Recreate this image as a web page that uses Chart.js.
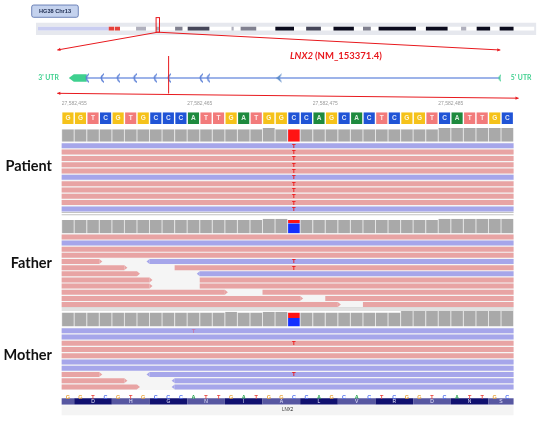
<!DOCTYPE html>
<html>
<head>
<meta charset="utf-8">
<title>LNX2 variant - IGV view</title>
<script src="https://cdn.jsdelivr.net/npm/chart.js@4.4.1/dist/chart.umd.min.js"></script>
<style>
  body { margin: 0; background: #fff; }
  canvas { display: block; }
</style>
</head>
<body>
<canvas id="igv" width="550" height="424"></canvas>
<script>
// ---------- data ----------
var chromName = 'HG38 Chr13';
var chrLength = 114.36; // Mb
// [start Mb, end Mb, stain]
var chrBands = [
  [0, 16.3, 'stalk'], [16.3, 17.55, 'acen'], [17.7, 18.9, 'acen'],
  [22.6, 24.9, 'gpos25'], [27.2, 28.1, 'gpos25'], [31.6, 33.3, 'gpos50'],
  [34.5, 39.5, 'gpos75'], [44.6, 45.1, 'gpos25'], [46.7, 50.3, 'gpos50'],
  [54.7, 59.0, 'gpos100'], [61.8, 65.2, 'gpos75'], [68.1, 72.8, 'gpos100'],
  [74.9, 76.7, 'gpos50'], [78.5, 87.1, 'gpos100'], [89.4, 94.4, 'gpos100'],
  [97.5, 98.7, 'gpos25'], [101.1, 104.2, 'gpos100'], [106.4, 109.6, 'gpos100']
];

var geneName = 'LNX2';
var transcript = 'NM_153371.4';
var geneSpan = [27559000, 27660500];   // minus strand: 3' end left, 5' end right
var geneView = [27556300, 27660500];
var utr3 = [27559000, 27563200];
var codingExons = [27563200, 27566700, 27570500, 27574400, 27579200, 27582470, 27590000, 27591700];
var largeExons = [27608500];
var utr5Exons = [27660300];

var viewStart = 27582454;   // left edge of the first base shown
var refSeq = ['G','G','T','C','G','T','G','C','C','C','A','T','T','G','A','T','G','G',
              'C','C','A','G','C','A','C','T','C','G','G','T','C','A','T','T','G','C'];
var rulerTicks = [27582455, 27582465, 27582475, 27582485];
var variantPos = 27582473;
var codonFrameStart = 27582455;
var aminoAcids = ['D','H','G','N','I','A','L','V','R','D','N','S'];

var sampleNames = ['Patient', 'Father', 'Mother'];

var patientDepth = [11,11,11,11,11,11,11,11,11,11,11,11,11,11,11,11,12,11,11,11,11,11,11,11,11,11,11,11,11,11,12,12,12,12,12,12];
var fatherDepth  = [12,12,12,12,12,12,12,12,12,12,12,12,12,12,12,12,13,13,12,12,12,12,12,12,12,12,12,12,12,12,13,13,13,13,13,13];
var motherDepth  = [18,18,18,18,18,18,18,18,18,18,18,18,18,19,18,18,19,19,18,18,18,18,18,18,18,18,18,20,20,20,20,20,20,20,20,20];

var patientAlleles = { T: 11, C: 0 };
var fatherAlleles  = { T: 3,  C: 9 };
var motherAlleles  = { T: 7,  C: 11 };

// each row: segments [startBase, endBase, strand] (bases counted from viewStart)
var patientReads = [
  [[0,36,'-']], [[0,36,'+']], [[0,36,'+']], [[0,36,'+']], [[0,36,'+']], [[0,36,'-']],
  [[0,36,'+']], [[0,36,'+']], [[0,36,'+']], [[0,36,'+']], [[0,36,'-']]
];
var fatherReads = [
  [[0,36,'+']], [[0,36,'-']], [[0,36,'+']], [[0,36,'+']],
  [[0,3,'+'],[7,36,'-']], [[0,5,'+'],[9,36,'+']], [[0,6,'+'],[11,36,'-']],
  [[0,7,'+'],[11,36,'+']], [[0,7,'+'],[11,36,'+']], [[0,13,'+'],[16,36,'+']],
  [[0,19,'+'],[21,36,'+']], [[0,22,'+'],[24,36,'+']]
];
var motherReads = [
  [[0,36,'-']], [[0,36,'-']], [[0,36,'+']], [[0,36,'+']], [[0,36,'+']], [[0,36,'-']], [[0,36,'-']],
  [[0,3,'+'],[7,36,'-']], [[0,5,'+'],[9,36,'-']], [[0,6,'+'],[9,36,'-']]
];

// [row, position, base, lowQuality]
var patientMismatches = [[0,variantPos,'T'],[1,variantPos,'T'],[2,variantPos,'T'],[3,variantPos,'T'],
  [4,variantPos,'T'],[5,variantPos,'T'],[6,variantPos,'T'],[7,variantPos,'T'],[8,variantPos,'T'],
  [9,variantPos,'T'],[10,variantPos,'T']];
var fatherMismatches = [[4,variantPos,'T'],[5,variantPos,'T']];
var motherMismatches = [[0,27582465,'T',true],[2,variantPos,'T'],[7,variantPos,'T']];

// ---------- layout & style ----------
var W = 550, H = 424;
var chrPx = [33.6, 539], genePx = [65, 504.5], alnPx = [57.7, 518];
var ideoY = 24.2, ideoH = 3.8, ideoBgY = 24.5, ideoBgH = 12.4;
var geneY = 74.8;
var rulerY = 104, seqY = 115.85, seqH = 11.7;
var readH = 5;
var trackLayout = {
  Patient: { covTop: 126, covBottom: 140, readTop: 141.7, rowStep: 6.46, seps: [212.6, 214.7], labelY: 166.5 },
  Father:  { covTop: 219, covBottom: 234, readTop: 235, rowStep: 6.3, seps: [310.3, 312.3], labelY: 263.5 },
  Mother:  { covTop: 313.3, covBottom: 329.3, readTop: 331, rowStep: 6.4, seps: [], labelY: 355 }
};
var baseLettersY = 397, aaY = 406, aaH = 6.3, footY = 415;

var stainColor = { stalk: '#c9cdf1', acen: '#e5403a', gpos25: '#b0b0bd', gpos50: '#80808f', gpos75: '#454558', gpos100: '#0b0b1d' };
var baseFill = { A: '#1e8a3e', C: '#2054d6', G: '#f5c21a', T: '#f27b7b' };
var baseText = { A: '#22a04c', C: '#4f6ff0', G: '#e9a33a', T: '#e8453c' };
var readPink = '#e8a4a4', readBlue = '#a6a6ea';
var alleleColor = { T: '#ff1414', C: '#1430ff' };
var red = '#e8191e', utrGreen = '#3fd08f', exonBlue = '#5a7fd6';

var dataBySample = {
  Patient: { depth: patientDepth, alleles: patientAlleles, reads: patientReads, mm: patientMismatches },
  Father:  { depth: fatherDepth,  alleles: fatherAlleles,  reads: fatherReads,  mm: fatherMismatches },
  Mother:  { depth: motherDepth,  alleles: motherAlleles,  reads: motherReads,  mm: motherMismatches }
};

var viewEnd = viewStart + refSeq.length;
var variantIdx = variantPos - 1 - viewStart;
var basePx = (alnPx[1] - alnPx[0]) / refSeq.length;

function fit(v0, v1, p0, p1) {
  var k = (v1 - v0) / (p1 - p0);
  return { min: v0 - p0 * k, max: v1 + (W - p1) * k };
}
function xScale(range) {
  return Object.assign({ type: 'linear', axis: 'x', display: false, offset: false, beginAtZero: false,
    stacked: false, bounds: 'data' }, range);
}
function hbar(o) {
  return Object.assign({ type: 'bar', indexAxis: 'y', grouped: false, yAxisID: 'y', borderSkipped: false,
    inflateAmount: 0, borderWidth: 0 }, o);
}
function vbar(o) {
  return Object.assign({ type: 'bar', indexAxis: 'x', grouped: false, xAxisID: 'xa', yAxisID: 'y',
    borderSkipped: false, inflateAmount: 0, borderWidth: 0 }, o);
}
function rowCenter(L, r) { return L.readTop + r * L.rowStep + readH / 2; }

function chevronImg(color, w, h, filled) {
  var c = document.createElement('canvas');
  c.width = w; c.height = h;
  var g = c.getContext('2d');
  g.fillStyle = color;
  g.beginPath();
  if (filled) {
    g.moveTo(w, 0); g.lineTo(0, h / 2); g.lineTo(w, h); g.lineTo(w * 0.55, h / 2);
  } else {
    g.moveTo(w, 0); g.quadraticCurveTo(-2, h / 2, w, h);
    g.lineTo(w, h - 1.6); g.quadraticCurveTo(1.2, h / 2, w, 1.6);
  }
  g.closePath(); g.fill();
  return c;
}

// ---------- datasets (listed bottom layer first) ----------
var ds = [];

// ideogram
ds.push(hbar({ xAxisID: 'xc', barThickness: ideoBgH, backgroundColor: '#e6e8ee',
  data: [{ x: [-0.45, chrLength + 0.45], y: ideoBgY }] }));
ds.push(hbar({ xAxisID: 'xc', barThickness: ideoH, backgroundColor: '#ffffff',
  data: [{ x: [0, chrLength], y: ideoY }] }));
ds.push(hbar({ xAxisID: 'xc', barThickness: ideoH,
  backgroundColor: function (c) { return c.raw ? stainColor[c.raw.stain] : '#888'; },
  data: chrBands.map(function (b) { return { x: [b[0], b[1]], y: ideoY, stain: b[2] }; }) }));

// gene model
ds.push(hbar({ xAxisID: 'xg', barThickness: 1.5, backgroundColor: '#7d9ae2',
  data: [{ x: [utr3[1], geneSpan[1]], y: geneY }] }));
ds.push({ type: 'scatter', xAxisID: 'xg', yAxisID: 'y', pointStyle: chevronImg(exonBlue, 5, 10, false),
  pointRadius: 4, data: codingExons.map(function (p) { return { x: p, y: geneY }; }) });
ds.push({ type: 'scatter', xAxisID: 'xg', yAxisID: 'y', pointStyle: chevronImg('#5b8bc9', 6, 10, true),
  pointRadius: 4, data: largeExons.map(function (p) { return { x: p, y: geneY }; }) });
ds.push({ type: 'scatter', xAxisID: 'xg', yAxisID: 'y', pointStyle: chevronImg(utrGreen, 4, 8, false),
  pointRadius: 4, data: utr5Exons.map(function (p) { return { x: p, y: geneY }; }) });

// reference sequence
ds.push(hbar({ xAxisID: 'xa', barThickness: seqH,
  backgroundColor: function (c) { return c.raw ? baseFill[c.raw.base] : '#ccc'; },
  borderColor: '#ffffff', borderWidth: { left: 0.7, right: 0.7, top: 0, bottom: 0 },
  data: refSeq.map(function (b, i) { return { x: [viewStart + i, viewStart + i + 1], y: seqY, base: b }; }) }));

// samples
sampleNames.forEach(function (name) {
  var L = trackLayout[name], d = dataBySample[name];
  var maxDepth = Math.max.apply(null, d.depth);
  var covH = L.covBottom - L.covTop;
  var hOf = function (n) { return n / maxDepth * covH; };

  ds.push(vbar({ barThickness: basePx, backgroundColor: '#a9a9a9', borderColor: '#d2d2d2',
    borderWidth: { left: 0.6, right: 0.6, top: 0, bottom: 0 },
    data: d.depth.map(function (n, i) {
      return i === variantIdx ? null : { x: viewStart + i + 0.5, y: [L.covBottom - hOf(n), L.covBottom] };
    }).filter(Boolean) }));

  var nC = d.alleles.C, nT = d.alleles.T;
  ds.push(vbar({ barThickness: basePx,
    backgroundColor: function (c) { return c.raw ? alleleColor[c.raw.allele] : '#000'; },
    borderColor: '#b9c4ff', borderWidth: { left: 0.6, right: 0.6, top: 0, bottom: 0 },
    data: [
      { x: variantPos - 0.5, y: [L.covBottom - hOf(nC), L.covBottom], allele: 'C' },
      { x: variantPos - 0.5, y: [L.covBottom - hOf(nC + nT), L.covBottom - hOf(nC)], allele: 'T' }
    ].filter(function (p) { return Math.abs(p.y[1] - p.y[0]) > 0.01; }) }));

  var nRows = d.reads.length;
  ds.push(hbar({ xAxisID: 'xa', barThickness: (nRows - 1) * L.rowStep + readH, backgroundColor: '#f5f5f5',
    data: [{ x: [viewStart, viewEnd], y: L.readTop + ((nRows - 1) * L.rowStep + readH) / 2 }] }));

  var segs = [];
  d.reads.forEach(function (row, r) {
    row.forEach(function (s) {
      segs.push({ x: [viewStart + s[0], viewStart + s[1]], y: rowCenter(L, r), strand: s[2] });
    });
  });
  ds.push(hbar({ xAxisID: 'xa', barThickness: readH,
    backgroundColor: function (c) { return c.raw && c.raw.strand === '-' ? readBlue : readPink; },
    data: segs }));

  if (L.seps.length) {
    ds.push(hbar({ xAxisID: 'xa', barThickness: 1, backgroundColor: '#c3c3c3',
      data: L.seps.map(function (y) { return { x: [viewStart, viewEnd], y: y }; }) }));
  }
});

// translation track + footer
var codonCells = [{ x: [viewStart, codonFrameStart], y: aaY, k: -1 }];
aminoAcids.forEach(function (aa, k) {
  var s = codonFrameStart + 3 * k;
  codonCells.push({ x: [s, Math.min(s + 3, viewEnd)], y: aaY, k: k, aa: aa });
});
ds.push(hbar({ xAxisID: 'xa', barThickness: aaH,
  backgroundColor: function (c) { return c.raw && c.raw.k % 2 === 0 ? '#111170' : '#5757a1'; },
  data: codonCells }));
ds.push(hbar({ xAxisID: 'xa', barThickness: 10, backgroundColor: '#f4f4f4',
  data: [{ x: [viewStart, viewEnd], y: footY }] }));

ds.forEach(function (d, i) { d.order = ds.length - i; });

// ---------- overlay: labels, connectors, read tips ----------
function txt(ctx, s, x, y, font, color, align) {
  ctx.font = font; ctx.fillStyle = color;
  ctx.textAlign = align || 'center'; ctx.textBaseline = 'middle';
  ctx.fillText(s, x, y);
}
function arrow(ctx, x0, y0, x1, y1, size) {
  var a = Math.atan2(y1 - y0, x1 - x0);
  ctx.beginPath();
  ctx.moveTo(x1, y1);
  ctx.lineTo(x1 - size * Math.cos(a - 0.5), y1 - size * Math.sin(a - 0.5));
  ctx.lineTo(x1 - size * Math.cos(a + 0.5), y1 - size * Math.sin(a + 0.5));
  ctx.closePath(); ctx.fill();
}
function line(ctx, x0, y0, x1, y1) {
  ctx.beginPath(); ctx.moveTo(x0, y0); ctx.lineTo(x1, y1); ctx.stroke();
}

var overlay = {
  id: 'overlay',
  beforeDatasetsDraw: function (chart) {
    var ctx = chart.ctx, xg = chart.scales.xg, y = chart.scales.y;
    var x0 = xg.getPixelForValue(utr3[0]), x1 = xg.getPixelForValue(utr3[1]), gy = y.getPixelForValue(geneY);
    ctx.save();
    ctx.fillStyle = utrGreen;
    ctx.beginPath();
    ctx.moveTo(x0, gy); ctx.lineTo(x0 + 5, gy - 3.8); ctx.lineTo(x1, gy - 3.8);
    ctx.lineTo(x1, gy + 3.8); ctx.lineTo(x0 + 5, gy + 3.8); ctx.closePath(); ctx.fill();
    ctx.restore();
  },
  afterDatasetsDraw: function (chart) {
    var ctx = chart.ctx, s = chart.scales, xa = s.xa, xc = s.xc, xg = s.xg, ys = s.y;
    var Y = function (v) { return ys.getPixelForValue(v); };
    ctx.save();

    // chromosome label
    ctx.fillStyle = '#c4d2ee'; ctx.strokeStyle = '#5169a8'; ctx.lineWidth = 0.8;
    ctx.beginPath(); ctx.roundRect(31.7, 5, 46.6, 12.3, 2); ctx.fill(); ctx.stroke();
    txt(ctx, chromName, 55, 11.3, 'bold 5.6px "Liberation Sans"', '#1b2a4e');

    // locus marker on ideogram and zoom lines to the gene
    var mx = xc.getPixelForValue((geneSpan[0] + geneSpan[1]) / 2e6);
    ctx.strokeStyle = red; ctx.fillStyle = red; ctx.lineWidth = 1;
    ctx.strokeRect(mx - 1.7, 17.6, 3.4, 14.6);
    var gl = xg.getPixelForValue(geneView[0]), gr = xg.getPixelForValue(geneView[1]);
    line(ctx, mx, 32.2, gl, 50); arrow(ctx, mx, 32.2, gl, 50, 3.5);
    line(ctx, mx, 32.2, gr, 50); arrow(ctx, mx, 32.2, gr, 50, 3.5);

    // gene title
    ctx.textBaseline = 'middle'; ctx.textAlign = 'left'; ctx.fillStyle = red;
    ctx.font = 'italic bold 9.5px Lato';
    var tx = 290;
    ctx.fillText(geneName, tx, 55.5);
    tx += ctx.measureText(geneName + ' ').width;
    ctx.font = 'bold 9.5px Lato';
    ctx.fillText('(' + transcript + ')', tx, 55.5);

    // UTR labels
    var gy = Y(geneY);
    txt(ctx, "3' UTR", xg.getPixelForValue(geneSpan[0]) - 10, gy, 'bold 6.8px Lato', utrGreen, 'right');
    txt(ctx, "5' UTR", xg.getPixelForValue(geneSpan[1]) + 10.5, gy, 'bold 6.8px Lato', utrGreen, 'left');

    // variant line in gene and zoom line down to the alignment
    var vx = xg.getPixelForValue(variantPos);
    ctx.strokeStyle = red; ctx.fillStyle = red; ctx.lineWidth = 1;
    line(ctx, vx, 56, vx, 93.5);
    var al = xa.getPixelForValue(viewStart) - 4.4, ar = xa.getPixelForValue(viewEnd) + 5;
    line(ctx, al, 93.3, ar, 98.2);
    arrow(ctx, ar, 98.2, al, 93.3, 3.5);
    arrow(ctx, al, 93.3, ar, 98.2, 3.5);

    // ruler
    rulerTicks.forEach(function (p) {
      txt(ctx, p.toLocaleString('en-US'), xa.getPixelForValue(p), rulerY, '5px "Liberation Sans"', '#9a9a9a');
    });

    // reference letters
    refSeq.forEach(function (b, i) {
      txt(ctx, b, xa.getPixelForValue(viewStart + i + 0.5), Y(seqY) + 0.3, 'bold 6.5px "Liberation Sans"', 'rgba(255,255,255,0.85)');
    });

    // samples
    sampleNames.forEach(function (name) {
      var L = trackLayout[name], d = dataBySample[name];
      txt(ctx, name, 52, L.labelY, 'bold 14.5px Lato', '#111111', 'right');
      // strand tips
      d.reads.forEach(function (row, r) {
        var cy = Y(rowCenter(L, r)), t = Y(rowCenter(L, r) - readH / 2), b = Y(rowCenter(L, r) + readH / 2);
        row.forEach(function (sg) {
          if (sg[2] === '+' && sg[1] < refSeq.length) {
            var x = xa.getPixelForValue(viewStart + sg[1]);
            ctx.fillStyle = readPink;
            ctx.beginPath(); ctx.moveTo(x, t); ctx.lineTo(x + 3, cy); ctx.lineTo(x, b); ctx.closePath(); ctx.fill();
          }
          if (sg[2] === '-' && sg[0] > 0) {
            var x2 = xa.getPixelForValue(viewStart + sg[0]);
            ctx.fillStyle = readBlue;
            ctx.beginPath(); ctx.moveTo(x2, t); ctx.lineTo(x2 - 3, cy); ctx.lineTo(x2, b); ctx.closePath(); ctx.fill();
          }
        });
      });
      // mismatches
      d.mm.forEach(function (m) {
        txt(ctx, m[2], xa.getPixelForValue(m[1] - 0.5), Y(rowCenter(L, m[0])) + 0.3,
          'bold 6px "Liberation Sans"', m[3] ? 'rgba(232,60,90,0.45)' : '#ee1111');
      });
    });

    // bottom sequence and translation
    refSeq.forEach(function (b, i) {
      txt(ctx, b, xa.getPixelForValue(viewStart + i + 0.5), baseLettersY, 'bold 5.5px "Liberation Sans"', baseText[b]);
    });
    codonCells.forEach(function (c) {
      if (c.aa) txt(ctx, c.aa, xa.getPixelForValue((c.x[0] + c.x[1]) / 2), Y(aaY), '5px "Liberation Sans"', '#e8e8ff');
    });
    txt(ctx, geneName, xa.getPixelForValue((viewStart + viewEnd) / 2), Y(footY), '4.5px "Liberation Sans"', '#333333');

    ctx.restore();
  }
};

new Chart(document.getElementById('igv'), {
  type: 'bar',
  data: { datasets: ds },
  options: {
    responsive: false,
    animation: false,
    events: [],
    layout: { padding: 0 },
    plugins: { legend: { display: false }, tooltip: { enabled: false }, title: { display: false } },
    scales: {
      xa: xScale(fit(viewStart, viewEnd, alnPx[0], alnPx[1])),
      xc: xScale(fit(0, chrLength, chrPx[0], chrPx[1])),
      xg: xScale(fit(geneSpan[0], geneSpan[1], genePx[0], genePx[1])),
      y: { type: 'linear', axis: 'y', display: false, offset: false, beginAtZero: false, bounds: 'data',
           reverse: true, min: 0, max: H }
    }
  },
  plugins: [overlay]
});
</script>
</body>
</html>
